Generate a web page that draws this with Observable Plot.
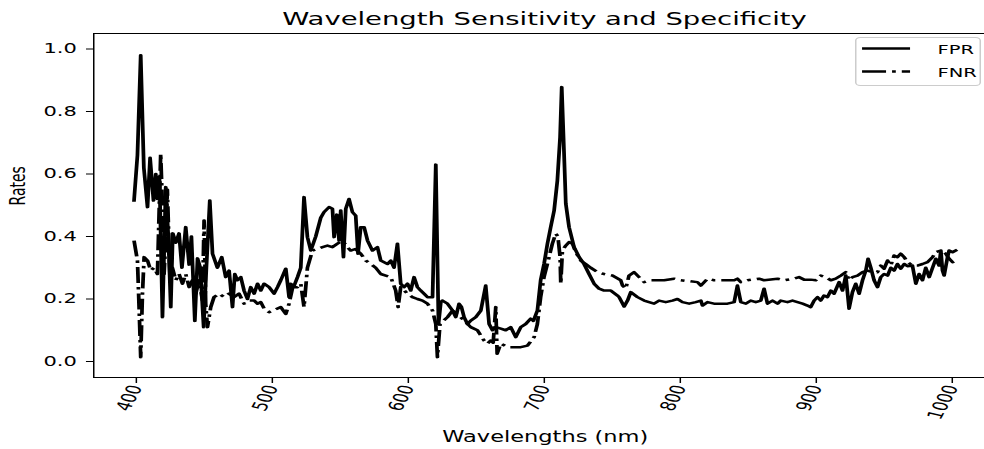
<!DOCTYPE html>
<html><head><meta charset="utf-8">
<script src="https://cdn.jsdelivr.net/npm/d3@7"></script>
<script src="https://cdn.jsdelivr.net/npm/@observablehq/plot@0.6"></script>
<style>
html,body{margin:0;padding:0;background:#fff;overflow:hidden;}
#wrap{position:relative;width:656px;height:449px;transform:scaleX(1.5);transform-origin:0 0;font-family:"DejaVu Sans",sans-serif;color:#000;}
#title{position:absolute;left:63px;width:600px;top:9px;text-align:center;font-size:18.3px;line-height:20px;white-space:nowrap;}
#chart{position:absolute;left:0;top:0;}
#legend{position:absolute;left:570px;top:37px;}
</style></head><body>
<div id="wrap"><div id="chart"></div><div id="title"></div><div id="legend"></div></div>
<script>
const titleText = "Wavelength Sensitivity and Specificity";
const xLabel = "Wavelengths (nm)";
const yLabel = "Rates";
const seriesNames = ["FPR", "FNR"];
const xTicks = [400, 500, 600, 700, 800, 900, 1000];
const yTicks = [0, 0.2, 0.4, 0.6, 0.8, 1.0];

const fprWavelengths = [
398.3,400.8,403.2,405.5,408.2,410.1,412.6,414.3,415.5,417,
419.2,421.6,423.5,425.3,426.8,429,431.4,433.5,436.3,438.8,
440.5,443,445,447,449.5,451.5,454,456,459.6,462.8,
465.7,468.2,470.7,472.4,474.3,476.8,479.2,481.7,484.1,486.6,
489.1,491.5,493.9,497.6,501.3,503.8,506.2,509.9,512.3,513.5,
515.8,518.5,520.9,523.3,525.8,528.3,531.9,535.6,538,541.7,
544.2,545.4,547.4,549.1,550.3,552.3,554,556.4,558.9,561.3,
563,565,567.5,570,573.6,577.3,579.7,584.7,587.1,589.5,
592,594.4,596.9,599.4,601.8,604.2,606.7,609.1,611.6,614.1,
617.8,620.2,622.2,623.9,625.1,628.8,632.5,634.9,637.3,639,
641,643.5,645.9,649.6,653.3,656.9,659.4,661.9,664.3,668,
671.6,675.3,679,682.7,686.3,690,692,694.9,697.3,699.8,
702.3,704.7,707.2,709.6,711.6,712.8,714.1,715.8,718.2,721.9,
725.6,729.2,732.9,736.6,740.3,744,748.9,753.8,755,758.7,
761.2,763.6,768.5,773.4,777,780.7,784.4,789.3,794.2,797.9,
801.6,806.5,811.4,815.1,816.3,820,824.8,829.8,834.7,839.6,
842,844.5,848.2,851.8,855.5,859.2,861.6,864.1,867.8,871.5,
873.9,878.8,882.5,886.2,889.9,893.5,895.9,898.4,900.9,903.3,
905.7,908.2,910.7,913.1,916.8,919.3,921.7,924.1,926.6,929,
931.5,934,936.4,938.1,940.1,942.5,945,947.4,949.9,952.4,
954.8,957.2,959.7,962.1,964.6,967.1,970.7,973.2,975.6,978.1,
980.5,983,985.5,987.9,990.3,991.6,992.8,994,996.5,997.7,
1000.2,1002.5];
const fprRates = [
.515,.66,.98,.62,.494,.652,.515,.60,.52,.59,
.142,.558,.40,.174,.41,.38,.41,.30,.43,.31,
.40,.13,.33,.30,.11,.30,.515,.345,.30,.334,
.27,.291,.174,.28,.26,.27,.227,.20,.238,.217,
.249,.227,.249,.238,.217,.238,.26,.297,.206,.249,
.24,.27,.30,.526,.398,.355,.40,.46,.478,.494,
.489,.398,.47,.387,.483,.334,.489,.52,.478,.467,
.345,.43,.43,.387,.355,.366,.323,.312,.323,.30,
.377,.249,.238,.249,.227,.27,.238,.227,.217,.206,
.206,.63,.12,.19,.195,.185,.163,.142,.185,.175,
.142,.12,.131,.142,.163,.243,.12,.10,.11,.105,
.10,.11,.078,.11,.12,.137,.13,.163,.26,.312,
.377,.43,.483,.579,.718,.878,.718,.505,.43,.366,
.334,.312,.28,.249,.233,.227,.227,.211,.206,.176,
.195,.222,.206,.195,.19,.185,.195,.19,.195,.20,
.19,.185,.19,.195,.179,.19,.185,.185,.185,.19,
.243,.19,.185,.195,.19,.195,.233,.185,.195,.185,
.195,.19,.195,.19,.185,.179,.174,.195,.206,.195,
.211,.206,.227,.217,.254,.227,.275,.169,.222,.249,
.217,.26,.291,.329,.30,.26,.238,.27,.28,.275,
.30,.291,.312,.297,.312,.305,.307,.249,.28,.26,
.30,.27,.30,.329,.307,.355,.291,.275,.334,.355,
.35,.355];

const fnrWavelengths = [
398.3,400.8,402,403.2,404.5,405.7,408.2,410.6,413,415.5,
417.9,419.2,420.4,421.6,422.8,424.8,426.5,429,431.4,433.9,
436.3,438.8,441.3,443.7,446.1,448.6,449.8,451,452.3,454.7,
457.1,460.8,464.5,468.2,471.8,475.5,479.2,482.9,486.6,489.1,
491.5,493.9,497.6,501.3,506.2,509.9,512.3,515,518.5,520.9,
523.3,525.8,529.5,533.2,536.9,540.5,544.2,547.9,551.5,555.2,
557.6,561,565,568.7,572.4,576,579.7,583.4,587.1,590.7,
592.5,594.4,599.4,603,606.7,610.4,614.1,617.8,620.2,621.4,
623.3,628.8,632.5,636.1,641,645.9,650.8,655.7,658.1,660.6,
662.4,664.3,665.3,668,672.9,677.8,682.7,687.6,692.5,694.9,
697.3,699.8,703.5,705.9,708.4,710,711.6,712.1,713.3,715.8,
718.2,720.7,723.1,726.8,730.5,734.1,739,744,750.1,756.2,
757.5,759.9,762.3,766,769.7,773.4,778.3,788.1,795.4,800.3,
812.6,815.1,820,824.8,834.7,839.6,842,844.5,849.4,857.9,
861.6,871.5,876.3,883.7,887.3,891,895.9,899.6,903.3,907,
910.7,914.3,918,921.7,924.1,926.6,930.3,934,937.6,941.3,
945,947.4,949.9,952.4,954.8,957.2,959.7,962.1,964.6,967.1,
970.7,974.4,978.1,981.8,985.5,987.9,991.6,995.2,997.7,1000.2,
1001.3];
const fnrRates = [
.387,.323,.174,.014,.217,.334,.323,.291,.30,.28,
.665,.494,.28,.387,.55,.26,.30,.26,.28,.249,
.28,.238,.26,.217,.26,.195,.451,.185,.11,.174,
.206,.217,.206,.217,.206,.217,.185,.195,.195,.185,
.19,.17,.158,.165,.174,.152,.185,.238,.238,.249,
.174,.30,.355,.36,.366,.371,.366,.377,.387,.366,
.355,.36,.345,.323,.312,.30,.28,.275,.27,.227,
.174,.238,.217,.206,.20,.195,.185,.163,.12,.014,
.12,.142,.163,.152,.131,.11,.10,.067,.057,.067,
.06,.174,.025,.057,.046,.046,.046,.051,.078,.12,
.206,.27,.334,.377,.409,.40,.334,.249,.355,.371,
.382,.377,.35,.323,.312,.30,.286,.28,.275,.26,
.243,.233,.275,.286,.27,.254,.26,.26,.265,.26,
.254,.243,.265,.26,.26,.26,.265,.254,.26,.265,
.26,.265,.26,.265,.27,.262,.262,.26,.275,.27,
.26,.265,.275,.286,.26,.27,.275,.286,.291,.286,
.286,.307,.297,.323,.307,.339,.334,.345,.334,.318,
.307,.307,.312,.318,.334,.35,.355,.345,.329,.318,
.32];

const fpr = fprWavelengths.map((w, i) => ({w, v: fprRates[i]}));
const fnr = fnrWavelengths.map((w, i) => ({w, v: fnrRates[i]}));
const dashDot = "16,4,2.5,4";

const chart = Plot.plot({
  width: 656, height: 449,
  marginTop: 33, marginBottom: 72, marginLeft: 62, marginRight: -8,
  style: {fontFamily: "DejaVu Sans", fontSize: "14px", background: "transparent", color: "black", overflow: "visible"},
  x: {domain: [368.67, 1032.7], ticks: xTicks, tickFormat: d => String(d), tickRotate: -70, tickSize: 6, tickPadding: 2, label: null},
  y: {domain: [-0.0512, 1.0496], ticks: yTicks, tickFormat: d3.format(".1f"), tickSize: 4.7, tickPadding: 6.6, label: null},
  marks: [
    Plot.frame({stroke: "black", strokeWidth: 1}),
    Plot.line(fpr, {x: "w", y: "v", stroke: "black", strokeWidth: 2.5, strokeLinejoin: "round", strokeLinecap: "square"}),
    Plot.line(fnr, {x: "w", y: "v", stroke: "black", strokeWidth: 2.5, strokeDasharray: dashDot, strokeLinejoin: "round", strokeLinecap: "butt"}),
    Plot.text([xLabel], {text: d => d, frameAnchor: "bottom", dy: 64, lineAnchor: "bottom", fontSize: 15}),
    Plot.text([yLabel], {text: d => d, frameAnchor: "left", dx: -50, rotate: -90, fontSize: 14})
  ]
});
document.getElementById("chart").appendChild(chart);
document.getElementById("title").textContent = titleText;

// legend
const lg = d3.select("#legend").append("svg").attr("width", 84).attr("height", 49).style("overflow", "visible");
lg.append("rect").attr("x", 0.5).attr("y", 0.5).attr("width", 83).attr("height", 48).attr("rx", 3)
  .attr("fill", "white").attr("fill-opacity", 0.8).attr("stroke", "#cccccc");
seriesNames.forEach((name, i) => {
  const y = 11.5 + i * 23;
  lg.append("line").attr("x1", 4.7).attr("x2", 36.7).attr("y1", y).attr("y2", y)
    .attr("stroke", "black").attr("stroke-width", 2.5)
    .attr("stroke-dasharray", i === 1 ? dashDot : null);
  lg.append("text").attr("x", 55).attr("y", y + 5.5).text(name)
    .attr("font-family", "DejaVu Sans").attr("font-size", 13).attr("fill", "black");
});
</script>
</body></html>
